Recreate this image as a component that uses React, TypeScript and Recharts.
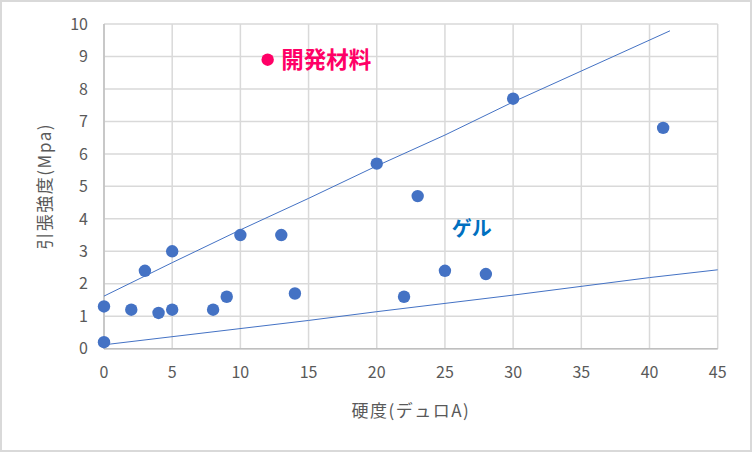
import {
  ScatterChart,
  Scatter,
  XAxis,
  YAxis,
  CartesianGrid,
  LabelList,
} from 'recharts'

// measured points: 硬度 (x) vs 引張強度 (y)
const hardness = [0, 0, 2, 3, 4, 5, 5, 8, 9, 10, 13, 14, 20, 22, 23, 25, 28, 30, 41]
const strength = [1.3, 0.2, 1.2, 2.4, 1.1, 1.2, 3.0, 1.2, 1.6, 3.5, 3.5, 1.7, 5.7, 1.6, 4.7, 2.4, 2.3, 7.7, 6.8]

// developed material
const devX = [12]
const devY = [8.9]
const devLabel = ['開発材料']

// trendlines
const upperX = [0, 5, 10, 15, 20, 25, 30, 41.5]
const upperY = [1.62, 2.65, 3.66, 4.63, 5.63, 6.58, 7.6, 9.79]
const lowerX = [0, 15, 20, 30, 40, 45]
const lowerY = [0.12, 0.87, 1.14, 1.65, 2.19, 2.43]

// "ゲル" annotation anchor
const gelX = [25.5]
const gelY = [3.73]
const gelLabel = ['ゲル']

const xTicks = [0, 5, 10, 15, 20, 25, 30, 35, 40, 45]
const yTicks = [0, 1, 2, 3, 4, 5, 6, 7, 8, 9, 10]

const points = hardness.map((x, i) => ({ x, y: strength[i] }))
const devPoints = devX.map((x, i) => ({ x, y: devY[i], label: devLabel[i] }))
const upperLine = upperX.map((x, i) => ({ x, y: upperY[i] }))
const lowerLine = lowerX.map((x, i) => ({ x, y: lowerY[i] }))
const gelPoints = gelX.map((x, i) => ({ x, y: gelY[i], label: gelLabel[i] }))

const BLUE = '#4472C4'
const PINK = '#FF0066'
const GRID = '#d9d9d9'
const TEXT = '#595959'
const FONT = "'Noto Sans CJK JP', 'Noto Sans', sans-serif"

function Dot({ cx, cy, fill }: any) {
  if (cx == null || cy == null) return <g />
  return <circle cx={cx} cy={cy} r={6.2} fill={fill} />
}

function NoDot() {
  return <g />
}

function GelText({ cx, cy, payload }: any) {
  if (cx == null || cy == null) return <g />
  return (
    <text
      x={cx}
      y={cy}
      dominantBaseline="central"
      fill="#0070C0"
      fontSize={20}
      fontWeight="bold"
      fontFamily={FONT}
    >
      {payload.label}
    </text>
  )
}

export default function App() {
  return (
    <div
      style={{
        position: 'absolute',
        left: 0,
        top: 0,
        width: 752,
        height: 452,
        boxSizing: 'border-box',
        border: '2px solid #d9d9d9',
        background: '#fff',
        fontFamily: FONT,
      }}
    >
      <ScatterChart
        width={748}
        height={448}
        margin={{ top: 22, right: 32.3, left: 0, bottom: 31.3 }}
      >
        <CartesianGrid stroke={GRID} strokeWidth={1.5} />
        <XAxis
          type="number"
          dataKey="x"
          domain={[0, 45]}
          ticks={xTicks}
          height={70}
          tick={{ fill: TEXT, fontSize: 16 }}
          tickLine={false}
          tickMargin={12}
          axisLine={{ stroke: '#bfbfbf', strokeWidth: 1.5 }}
          label={{
            value: '硬度(デュロA)',
            position: 'insideBottom',
            offset: 2,
            fill: TEXT,
            fontSize: 17,
            letterSpacing: 1.5,
          }}
        />
        <YAxis
          type="number"
          dataKey="y"
          domain={[0, 10]}
          ticks={yTicks}
          width={102}
          tick={{ fill: TEXT, fontSize: 16 }}
          tickLine={false}
          tickMargin={10}
          axisLine={{ stroke: '#bfbfbf', strokeWidth: 1.5 }}
          label={{
            value: '引張強度(Mpa)',
            angle: -90,
            position: 'insideLeft',
            offset: 43,
            fill: TEXT,
            fontSize: 17,
            letterSpacing: 1.5,
            style: { textAnchor: 'middle' },
          }}
        />
        <Scatter
          data={upperLine}
          line={{ stroke: BLUE, strokeWidth: 1 }}
          lineType="joint"
          shape={NoDot}
          isAnimationActive={false}
        />
        <Scatter
          data={lowerLine}
          line={{ stroke: BLUE, strokeWidth: 1 }}
          lineType="joint"
          shape={NoDot}
          isAnimationActive={false}
        />
        <Scatter data={points} fill={BLUE} shape={Dot} isAnimationActive={false} />
        <Scatter data={devPoints} fill={PINK} shape={Dot} isAnimationActive={false}>
          <LabelList
            dataKey="label"
            position="right"
            offset={9}
            fill={PINK}
            fontSize={22.5}
            fontWeight="bold"
          />
        </Scatter>
        <Scatter data={gelPoints} shape={GelText} isAnimationActive={false} />
      </ScatterChart>
    </div>
  )
}
